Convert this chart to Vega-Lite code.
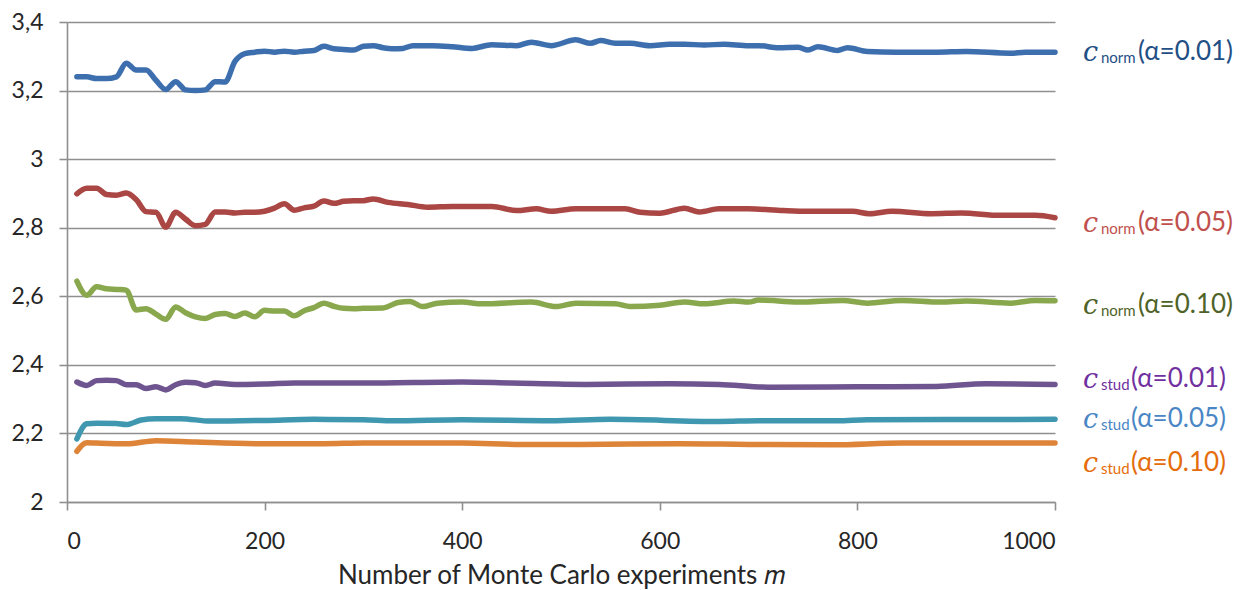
{
  "$schema": "https://vega.github.io/schema/vega-lite/v6.json",
  "width": 988,
  "height": 480,
  "autosize": {"type": "none"},
  "padding": {"left": 67, "top": 22, "right": 196, "bottom": 88},
  "background": "white",
  "config": {
    "view": {"stroke": null},
    "font": "Lato",
    "axis": {
      "labelFont": "Lato",
      "titleFont": "Lato",
      "labelColor": "#262626",
      "titleColor": "#262626",
      "domainColor": "#8f8f8f",
      "tickColor": "#8f8f8f",
      "gridColor": "#8f8f8f",
      "domainWidth": 1.6,
      "tickWidth": 1.6,
      "gridWidth": 1.6,
      "tickSize": 8
    }
  },
  "datasets": {
    "lines": [
      {"s": "n01", "m": 10, "c": 3.24}, {"s": "n01", "m": 20, "c": 3.24}, {"s": "n01", "m": 30, "c": 3.235}, {"s": "n01", "m": 40, "c": 3.235}, {"s": "n01", "m": 50, "c": 3.24}, {"s": "n01", "m": 60, "c": 3.28}, {"s": "n01", "m": 70, "c": 3.26}, {"s": "n01", "m": 80, "c": 3.26}, {"s": "n01", "m": 90, "c": 3.23}, {"s": "n01", "m": 100, "c": 3.203}, {"s": "n01", "m": 110, "c": 3.226}, {"s": "n01", "m": 120, "c": 3.202}, {"s": "n01", "m": 130, "c": 3.2}, {"s": "n01", "m": 140, "c": 3.202}, {"s": "n01", "m": 150, "c": 3.226}, {"s": "n01", "m": 160, "c": 3.225}, {"s": "n01", "m": 170, "c": 3.285}, {"s": "n01", "m": 180, "c": 3.308}, {"s": "n01", "m": 190, "c": 3.312}, {"s": "n01", "m": 200, "c": 3.315}, {"s": "n01", "m": 210, "c": 3.312}, {"s": "n01", "m": 220, "c": 3.315}, {"s": "n01", "m": 230, "c": 3.312}, {"s": "n01", "m": 240, "c": 3.315}, {"s": "n01", "m": 250, "c": 3.317}, {"s": "n01", "m": 260, "c": 3.329}, {"s": "n01", "m": 270, "c": 3.322}, {"s": "n01", "m": 280, "c": 3.32}, {"s": "n01", "m": 290, "c": 3.318}, {"s": "n01", "m": 300, "c": 3.329}, {"s": "n01", "m": 310, "c": 3.331}, {"s": "n01", "m": 320, "c": 3.325}, {"s": "n01", "m": 330, "c": 3.322}, {"s": "n01", "m": 340, "c": 3.323}, {"s": "n01", "m": 350, "c": 3.331}, {"s": "n01", "m": 370, "c": 3.331}, {"s": "n01", "m": 390, "c": 3.328}, {"s": "n01", "m": 410, "c": 3.323}, {"s": "n01", "m": 430, "c": 3.334}, {"s": "n01", "m": 455, "c": 3.331}, {"s": "n01", "m": 470, "c": 3.341}, {"s": "n01", "m": 490, "c": 3.331}, {"s": "n01", "m": 515, "c": 3.348}, {"s": "n01", "m": 530, "c": 3.338}, {"s": "n01", "m": 540, "c": 3.346}, {"s": "n01", "m": 555, "c": 3.338}, {"s": "n01", "m": 570, "c": 3.338}, {"s": "n01", "m": 590, "c": 3.331}, {"s": "n01", "m": 610, "c": 3.335}, {"s": "n01", "m": 625, "c": 3.335}, {"s": "n01", "m": 645, "c": 3.333}, {"s": "n01", "m": 665, "c": 3.335}, {"s": "n01", "m": 690, "c": 3.331}, {"s": "n01", "m": 700, "c": 3.331}, {"s": "n01", "m": 720, "c": 3.325}, {"s": "n01", "m": 740, "c": 3.326}, {"s": "n01", "m": 750, "c": 3.318}, {"s": "n01", "m": 760, "c": 3.328}, {"s": "n01", "m": 780, "c": 3.317}, {"s": "n01", "m": 790, "c": 3.325}, {"s": "n01", "m": 810, "c": 3.314}, {"s": "n01", "m": 840, "c": 3.312}, {"s": "n01", "m": 880, "c": 3.312}, {"s": "n01", "m": 910, "c": 3.314}, {"s": "n01", "m": 955, "c": 3.309}, {"s": "n01", "m": 970, "c": 3.312}, {"s": "n01", "m": 1000, "c": 3.312},

      {"s": "n05", "m": 10, "c": 2.899}, {"s": "n05", "m": 20, "c": 2.915}, {"s": "n05", "m": 30, "c": 2.915}, {"s": "n05", "m": 40, "c": 2.897}, {"s": "n05", "m": 50, "c": 2.895}, {"s": "n05", "m": 60, "c": 2.901}, {"s": "n05", "m": 70, "c": 2.882}, {"s": "n05", "m": 80, "c": 2.847}, {"s": "n05", "m": 90, "c": 2.845}, {"s": "n05", "m": 100, "c": 2.802}, {"s": "n05", "m": 110, "c": 2.845}, {"s": "n05", "m": 120, "c": 2.825}, {"s": "n05", "m": 130, "c": 2.806}, {"s": "n05", "m": 140, "c": 2.81}, {"s": "n05", "m": 150, "c": 2.846}, {"s": "n05", "m": 160, "c": 2.846}, {"s": "n05", "m": 170, "c": 2.843}, {"s": "n05", "m": 180, "c": 2.845}, {"s": "n05", "m": 190, "c": 2.845}, {"s": "n05", "m": 200, "c": 2.848}, {"s": "n05", "m": 210, "c": 2.857}, {"s": "n05", "m": 220, "c": 2.87}, {"s": "n05", "m": 230, "c": 2.851}, {"s": "n05", "m": 240, "c": 2.858}, {"s": "n05", "m": 250, "c": 2.863}, {"s": "n05", "m": 260, "c": 2.878}, {"s": "n05", "m": 270, "c": 2.871}, {"s": "n05", "m": 280, "c": 2.877}, {"s": "n05", "m": 290, "c": 2.879}, {"s": "n05", "m": 300, "c": 2.879}, {"s": "n05", "m": 310, "c": 2.884}, {"s": "n05", "m": 325, "c": 2.874}, {"s": "n05", "m": 345, "c": 2.868}, {"s": "n05", "m": 365, "c": 2.86}, {"s": "n05", "m": 390, "c": 2.862}, {"s": "n05", "m": 430, "c": 2.862}, {"s": "n05", "m": 455, "c": 2.85}, {"s": "n05", "m": 475, "c": 2.855}, {"s": "n05", "m": 490, "c": 2.848}, {"s": "n05", "m": 515, "c": 2.855}, {"s": "n05", "m": 565, "c": 2.855}, {"s": "n05", "m": 580, "c": 2.845}, {"s": "n05", "m": 600, "c": 2.842}, {"s": "n05", "m": 625, "c": 2.857}, {"s": "n05", "m": 640, "c": 2.846}, {"s": "n05", "m": 660, "c": 2.855}, {"s": "n05", "m": 690, "c": 2.855}, {"s": "n05", "m": 725, "c": 2.85}, {"s": "n05", "m": 750, "c": 2.848}, {"s": "n05", "m": 795, "c": 2.848}, {"s": "n05", "m": 812, "c": 2.841}, {"s": "n05", "m": 835, "c": 2.848}, {"s": "n05", "m": 875, "c": 2.841}, {"s": "n05", "m": 905, "c": 2.843}, {"s": "n05", "m": 945, "c": 2.836}, {"s": "n05", "m": 980, "c": 2.836}, {"s": "n05", "m": 1000, "c": 2.829},

      {"s": "n10", "m": 10, "c": 2.644}, {"s": "n10", "m": 20, "c": 2.603}, {"s": "n10", "m": 30, "c": 2.628}, {"s": "n10", "m": 40, "c": 2.622}, {"s": "n10", "m": 50, "c": 2.62}, {"s": "n10", "m": 60, "c": 2.618}, {"s": "n10", "m": 70, "c": 2.56}, {"s": "n10", "m": 80, "c": 2.564}, {"s": "n10", "m": 90, "c": 2.548}, {"s": "n10", "m": 100, "c": 2.533}, {"s": "n10", "m": 110, "c": 2.569}, {"s": "n10", "m": 120, "c": 2.552}, {"s": "n10", "m": 130, "c": 2.54}, {"s": "n10", "m": 140, "c": 2.535}, {"s": "n10", "m": 150, "c": 2.547}, {"s": "n10", "m": 160, "c": 2.55}, {"s": "n10", "m": 170, "c": 2.541}, {"s": "n10", "m": 180, "c": 2.551}, {"s": "n10", "m": 190, "c": 2.54}, {"s": "n10", "m": 200, "c": 2.559}, {"s": "n10", "m": 210, "c": 2.557}, {"s": "n10", "m": 220, "c": 2.557}, {"s": "n10", "m": 230, "c": 2.543}, {"s": "n10", "m": 240, "c": 2.558}, {"s": "n10", "m": 250, "c": 2.567}, {"s": "n10", "m": 260, "c": 2.58}, {"s": "n10", "m": 270, "c": 2.571}, {"s": "n10", "m": 280, "c": 2.565}, {"s": "n10", "m": 290, "c": 2.564}, {"s": "n10", "m": 300, "c": 2.565}, {"s": "n10", "m": 320, "c": 2.566}, {"s": "n10", "m": 335, "c": 2.582}, {"s": "n10", "m": 347, "c": 2.585}, {"s": "n10", "m": 360, "c": 2.57}, {"s": "n10", "m": 375, "c": 2.58}, {"s": "n10", "m": 400, "c": 2.583}, {"s": "n10", "m": 420, "c": 2.578}, {"s": "n10", "m": 470, "c": 2.583}, {"s": "n10", "m": 495, "c": 2.57}, {"s": "n10", "m": 515, "c": 2.58}, {"s": "n10", "m": 555, "c": 2.578}, {"s": "n10", "m": 570, "c": 2.57}, {"s": "n10", "m": 600, "c": 2.574}, {"s": "n10", "m": 625, "c": 2.583}, {"s": "n10", "m": 645, "c": 2.578}, {"s": "n10", "m": 675, "c": 2.586}, {"s": "n10", "m": 690, "c": 2.583}, {"s": "n10", "m": 700, "c": 2.589}, {"s": "n10", "m": 740, "c": 2.583}, {"s": "n10", "m": 785, "c": 2.588}, {"s": "n10", "m": 810, "c": 2.58}, {"s": "n10", "m": 845, "c": 2.588}, {"s": "n10", "m": 885, "c": 2.583}, {"s": "n10", "m": 910, "c": 2.586}, {"s": "n10", "m": 955, "c": 2.58}, {"s": "n10", "m": 980, "c": 2.588}, {"s": "n10", "m": 1000, "c": 2.587},

      {"s": "s01", "m": 10, "c": 2.35}, {"s": "s01", "m": 20, "c": 2.34}, {"s": "s01", "m": 30, "c": 2.354}, {"s": "s01", "m": 40, "c": 2.355}, {"s": "s01", "m": 50, "c": 2.354}, {"s": "s01", "m": 60, "c": 2.342}, {"s": "s01", "m": 70, "c": 2.342}, {"s": "s01", "m": 80, "c": 2.331}, {"s": "s01", "m": 90, "c": 2.336}, {"s": "s01", "m": 100, "c": 2.327}, {"s": "s01", "m": 110, "c": 2.342}, {"s": "s01", "m": 120, "c": 2.349}, {"s": "s01", "m": 130, "c": 2.348}, {"s": "s01", "m": 140, "c": 2.34}, {"s": "s01", "m": 150, "c": 2.347}, {"s": "s01", "m": 170, "c": 2.343}, {"s": "s01", "m": 200, "c": 2.344}, {"s": "s01", "m": 230, "c": 2.347}, {"s": "s01", "m": 300, "c": 2.347}, {"s": "s01", "m": 400, "c": 2.35}, {"s": "s01", "m": 450, "c": 2.347}, {"s": "s01", "m": 525, "c": 2.343}, {"s": "s01", "m": 610, "c": 2.345}, {"s": "s01", "m": 660, "c": 2.343}, {"s": "s01", "m": 710, "c": 2.335}, {"s": "s01", "m": 800, "c": 2.336}, {"s": "s01", "m": 880, "c": 2.337}, {"s": "s01", "m": 930, "c": 2.345}, {"s": "s01", "m": 1000, "c": 2.343},

      {"s": "s05", "m": 10, "c": 2.184}, {"s": "s05", "m": 20, "c": 2.228}, {"s": "s05", "m": 30, "c": 2.23}, {"s": "s05", "m": 50, "c": 2.229}, {"s": "s05", "m": 60, "c": 2.226}, {"s": "s05", "m": 75, "c": 2.239}, {"s": "s05", "m": 90, "c": 2.243}, {"s": "s05", "m": 115, "c": 2.243}, {"s": "s05", "m": 145, "c": 2.236}, {"s": "s05", "m": 200, "c": 2.238}, {"s": "s05", "m": 250, "c": 2.241}, {"s": "s05", "m": 300, "c": 2.24}, {"s": "s05", "m": 330, "c": 2.237}, {"s": "s05", "m": 400, "c": 2.24}, {"s": "s05", "m": 490, "c": 2.237}, {"s": "s05", "m": 550, "c": 2.241}, {"s": "s05", "m": 660, "c": 2.235}, {"s": "s05", "m": 700, "c": 2.237}, {"s": "s05", "m": 780, "c": 2.237}, {"s": "s05", "m": 810, "c": 2.24}, {"s": "s05", "m": 1000, "c": 2.241},

      {"s": "s10", "m": 10, "c": 2.148}, {"s": "s10", "m": 20, "c": 2.173}, {"s": "s10", "m": 30, "c": 2.172}, {"s": "s10", "m": 60, "c": 2.17}, {"s": "s10", "m": 90, "c": 2.179}, {"s": "s10", "m": 130, "c": 2.175}, {"s": "s10", "m": 200, "c": 2.17}, {"s": "s10", "m": 260, "c": 2.17}, {"s": "s10", "m": 300, "c": 2.172}, {"s": "s10", "m": 400, "c": 2.172}, {"s": "s10", "m": 460, "c": 2.168}, {"s": "s10", "m": 520, "c": 2.168}, {"s": "s10", "m": 620, "c": 2.17}, {"s": "s10", "m": 690, "c": 2.168}, {"s": "s10", "m": 775, "c": 2.167}, {"s": "s10", "m": 845, "c": 2.172}, {"s": "s10", "m": 1000, "c": 2.172}
    ],
    "labels": [
      {"s": "n01", "grp": "norm", "par": "(α=0.01)", "ly": 3.289},
      {"s": "n05", "grp": "norm", "par": "(α=0.05)", "ly": 2.791},
      {"s": "n10", "grp": "norm", "par": "(α=0.10)", "ly": 2.55},
      {"s": "s01", "grp": "stud", "par": "(α=0.01)", "ly": 2.336},
      {"s": "s05", "grp": "stud", "par": "(α=0.05)", "ly": 2.218},
      {"s": "s10", "grp": "stud", "par": "(α=0.10)", "ly": 2.091}
    ]
  },
  "resolve": {"scale": {"color": "independent"}},
  "layer": [
    {
      "data": {"name": "lines"},
      "mark": {"type": "line", "interpolate": "monotone", "strokeWidth": 5.5, "strokeCap": "round", "strokeJoin": "round"},
      "encoding": {
        "x": {
          "field": "m", "type": "quantitative",
          "scale": {"domain": [0, 1000], "nice": false},
          "axis": {
            "values": [0, 200, 400, 600, 800, 1000],
            "format": "d",
            "grid": false,
            "labelFontSize": 23,
            "labelPadding": 20,
            "title": "Number of Monte Carlo experiments 𝑚",
            "titleFontSize": 26,
            "titleFontWeight": "normal",
            "titlePadding": 9
          }
        },
        "y": {
          "field": "c", "type": "quantitative",
          "scale": {"domain": [2, 3.4], "nice": false, "zero": false},
          "axis": {
            "values": [2, 2.2, 2.4, 2.6, 2.8, 3, 3.2, 3.4],
            "grid": true,
            "labelFontSize": 23,
            "labelPadding": 16,
            "labelExpr": "replace(format(datum.value, '.1~f'), '.', ',')",
            "title": null
          }
        },
        "color": {
          "field": "s", "type": "nominal", "legend": null,
          "scale": {"domain": ["n01", "n05", "n10", "s01", "s05", "s10"], "range": ["#3d6fae", "#aa4643", "#89a84e", "#6f5590", "#3f97b0", "#de8438"]}
        }
      }
    },
    {
      "data": {"name": "labels"},
      "mark": {"type": "text", "text": "c", "font": "DejaVu Serif", "fontStyle": "italic", "fontSize": 27, "align": "left", "baseline": "alphabetic", "dx": 28, "dy": 1},
      "encoding": {
        "x": {"datum": 1000, "type": "quantitative"},
        "y": {"field": "ly", "type": "quantitative"},
        "color": {"field": "s", "type": "nominal", "legend": null,
          "scale": {"domain": ["n01", "n05", "n10", "s01", "s05", "s10"], "range": ["#1f4f85", "#c0504d", "#4f6228", "#7030a0", "#4a86c5", "#e46c0a"]}}
      }
    },
    {
      "data": {"name": "labels"},
      "mark": {"type": "text", "font": "Lato", "fontSize": 15, "align": "left", "baseline": "alphabetic", "dx": 46, "dy": 3},
      "encoding": {
        "x": {"datum": 1000, "type": "quantitative"},
        "y": {"field": "ly", "type": "quantitative"},
        "text": {"field": "grp"},
        "color": {"field": "s", "type": "nominal", "legend": null,
          "scale": {"domain": ["n01", "n05", "n10", "s01", "s05", "s10"], "range": ["#1f4f85", "#c0504d", "#4f6228", "#7030a0", "#4a86c5", "#e46c0a"]}}
      }
    },
    {
      "data": {"name": "labels"},
      "transform": [{"filter": "datum.grp === 'norm'"}],
      "mark": {"type": "text", "font": "Lato", "fontSize": 26, "align": "left", "baseline": "alphabetic", "dx": 83},
      "encoding": {
        "x": {"datum": 1000, "type": "quantitative"},
        "y": {"field": "ly", "type": "quantitative"},
        "text": {"field": "par"},
        "color": {"field": "s", "type": "nominal", "legend": null,
          "scale": {"domain": ["n01", "n05", "n10", "s01", "s05", "s10"], "range": ["#1f4f85", "#c0504d", "#4f6228", "#7030a0", "#4a86c5", "#e46c0a"]}}
      }
    },
    {
      "data": {"name": "labels"},
      "transform": [{"filter": "datum.grp === 'stud'"}],
      "mark": {"type": "text", "font": "Lato", "fontSize": 26, "align": "left", "baseline": "alphabetic", "dx": 76},
      "encoding": {
        "x": {"datum": 1000, "type": "quantitative"},
        "y": {"field": "ly", "type": "quantitative"},
        "text": {"field": "par"},
        "color": {"field": "s", "type": "nominal", "legend": null,
          "scale": {"domain": ["n01", "n05", "n10", "s01", "s05", "s10"], "range": ["#1f4f85", "#c0504d", "#4f6228", "#7030a0", "#4a86c5", "#e46c0a"]}}
      }
    }
  ]
}
